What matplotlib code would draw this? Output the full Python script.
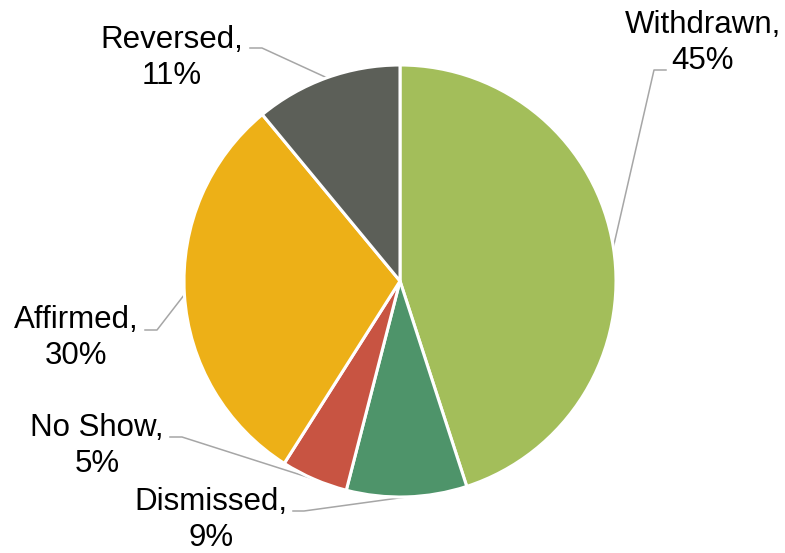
import numpy as np
import matplotlib
matplotlib.use("Agg")
import matplotlib.pyplot as plt
from matplotlib.patches import Wedge

plt.rcParams['font.family'] = ['Liberation Sans', 'DejaVu Sans']

# data
categories = ["Withdrawn", "Dismissed", "No Show", "Affirmed", "Reversed"]
shares = [45, 9, 5, 30, 11]
colors = ["#A3BE5A", "#4E946A", "#C85442", "#EDB017", "#5C5F58"]

# layout (pixels, origin top-left)
W, H = 785, 553
cx, cy, R = 400, 281, 216
label_xy = [(703, 43), (211, 520), (97, 446), (76, 338), (172, 58)]
# leader line: (text end x, elbow x, elbow y)
elbows = [(666, 654, 70), (293, 304, 511), (170, 182, 437), (145, 157, 330), (250, 262, 48)]

fig = plt.figure(figsize=(W / 100, H / 100), dpi=100)
ax = fig.add_axes([0, 0, 1, 1])

start = 90.0
for i, v in enumerate(shares):
    th1 = start - v / 100 * 360
    # y axis is inverted, so angles are negated
    w = Wedge((cx, cy), R, -start, -th1, facecolor=colors[i],
              edgecolor="white", linewidth=2.2)
    ax.add_patch(w)
    ang = np.deg2rad((start + th1) / 2)
    px, py = cx + R * np.cos(ang), cy - R * np.sin(ang)
    tx, ex, ey = elbows[i]
    ax.plot([tx, ex, px], [ey, ey, py], color="#A6A6A6", linewidth=1.1, zorder=0)
    ax.text(label_xy[i][0], label_xy[i][1], f"{categories[i]},\n{v}%",
            ha="center", va="center", fontsize=22.5, linespacing=1.3, color="black")
    start = th1

ax.set_xlim(0, W)
ax.set_ylim(H, 0)
ax.set_aspect("equal")
ax.axis("off")

fig.savefig("out.png", dpi=100)
